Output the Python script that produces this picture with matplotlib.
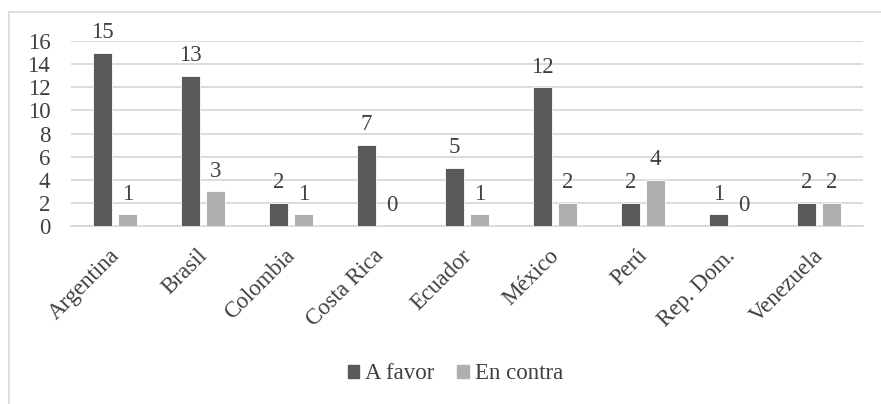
import matplotlib.pyplot as plt
import numpy as np
from matplotlib.patches import Patch, Rectangle
from matplotlib.transforms import ScaledTranslation

paises = ['Argentina', 'Brasil', 'Colombia', 'Costa Rica', 'Ecuador',
          'México', 'Perú', 'Rep. Dom.', 'Venezuela']
a_favor = [15, 13, 2, 7, 5, 12, 2, 1, 2]
en_contra = [1, 3, 1, 0, 1, 2, 4, 0, 2]
y_ticks = [0, 2, 4, 6, 8, 10, 12, 14, 16]

oscuro = '#595959'
claro = '#afafaf'
texto = '#404040'
rejilla = '#d9d9d9'
fs = 16.5

plt.rcParams['font.family'] = ['Liberation Serif', 'DejaVu Serif']

fig = plt.figure(figsize=(8.81, 4.04), dpi=100)
ax = fig.add_axes([0.0806, 0.4406, 0.899, 0.4579])

# marco del área del gráfico
fig.patches.append(Rectangle((9 / 881, -0.1), 1.2, 1 - 12 / 404 + 0.1,
                             transform=fig.transFigure, fill=False,
                             edgecolor=rejilla, linewidth=1.2))

x = np.arange(len(paises))
w = 0.225
off = 0.142
b1 = ax.bar(x - off, a_favor, w, color=oscuro, edgecolor='white', linewidth=0.6, zorder=3)
b2 = ax.bar(x + off, en_contra, w, color=claro, edgecolor='white', linewidth=0.6, zorder=3)

for barras, vals in ((b1, a_favor), (b2, en_contra)):
    for b, v in zip(barras, vals):
        ax.annotate(str(v), (b.get_x() + b.get_width() / 2, v),
                    xytext=(0, 7), textcoords='offset points',
                    ha='center', va='bottom', fontsize=fs, color=texto)

ax.set_xlim(-0.5, len(paises) - 0.5)
ax.set_ylim(0, 16)
ax.set_yticks(y_ticks)
ax.yaxis.grid(True, color=rejilla, linewidth=1.3, zorder=0)
ax.set_axisbelow(True)
for s in ('top', 'right', 'left'):
    ax.spines[s].set_visible(False)
ax.spines['bottom'].set_color(rejilla)
ax.spines['bottom'].set_linewidth(1.3)
ax.tick_params(length=0, labelsize=fs, labelcolor=texto)
ax.tick_params(axis='y', pad=15)
ax.set_xticks(x)
ax.set_xticklabels(paises, rotation=45, ha='right', va='baseline', rotation_mode='anchor')
ax.tick_params(axis='x', pad=22)
# fin de cada etiqueta un poco a la derecha del centro de la categoría
desplaza = ScaledTranslation(5 / 100, 0, fig.dpi_scale_trans)
for lab in ax.get_xticklabels():
    lab.set_transform(lab.get_transform() + desplaza)

handles = [Patch(color=oscuro), Patch(color=claro)]
fig.legend(handles, ['A favor', 'En contra'], loc='center', bbox_to_anchor=(0.517, 0.075),
           ncol=2, frameon=False, fontsize=fs, labelcolor=texto,
           handlelength=0.5, handleheight=0.5, handletextpad=0.25, columnspacing=1.0)

fig.savefig('out.png', dpi=100, facecolor='white')
